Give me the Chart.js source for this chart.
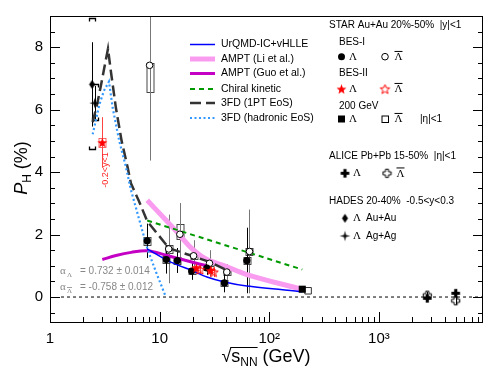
<!DOCTYPE html>
<html><head><meta charset="utf-8">
<script src="https://cdn.jsdelivr.net/npm/chart.js@4/dist/chart.umd.min.js"></script>
<style>html,body{margin:0;padding:0;background:#fff}canvas{display:block}</style>
</head><body>
<canvas id="c" width="498" height="371"></canvas>
<script>
// ---------- data ----------
const xTicks = [1, 10, 100, 1000];
const xTickLabels = ['1', '10', '10\u00B2', '10\u00B3'];
const yTicks = [0, 2, 4, 6, 8];

// STAR BES-I
const besLamE = [7.7, 11.5, 14.5, 19.6, 27, 39, 62.4];
const besLamP = [1.80, 1.20, 1.17, 0.83, 0.93, 0.45, 1.17];
const besLamStat = [0.55, 0.45, 0.40, 0.28, 0.22, 0.30, 1.05];
const besLamSys = [0.12, 0.12, 0.11, 0.10, 0.08, 0.10, 0.10];
const besBarE = [8.1, 12.1, 15.3, 20.4, 28.5, 41.0, 66.0];
const besBarP = [7.42, 1.54, 2.01, 1.32, 1.08, 0.80, 1.46];
const besBarStat = [3.05, 1.10, 1.00, 0.50, 0.42, 0.25, 1.34];
const besBarSysLo = [6.58, 1.42, 1.86, 1.22, 0.98, 0.70, 1.36];
const besBarSysHi = [7.48, 1.66, 2.33, 1.42, 1.18, 0.90, 1.56];
// STAR BES-II
const bes2LamE = [3.0, 21.6, 29.2];
const bes2LamP = [4.95, 0.93, 0.85];
const bes2LamStat = [0.81, 0.15, 0.13];
const bes2LamSys = [0.15, 0.06, 0.06];
const bes2BarE = [23.3, 31.0];
const bes2BarP = [0.88, 0.80];
const bes2BarStat = [0.18, 0.16];
// STAR 200 GeV
const s200LamE = [200];
const s200LamP = [0.25];
const s200LamStat = [0.03];
const s200BarE = [226];
const s200BarP = [0.20];
const s200BarStat = [0.03];
// ALICE
const aliLamE = [2760, 5020];
const aliLamP = [-0.04, 0.12];
const aliLamStat = [0.10, 0.12];
const aliBarE = [2760, 5020];
const aliBarP = [0.06, -0.12];
const aliBarStat = [0.10, 0.12];
// HADES
const hadAuE = [2.42];
const hadAuP = [6.81];
const hadAuStat = [1.35];
const hadAuSysLo = [4.74];
const hadAuSysHi = [8.92];
const hadAgE = [2.55];
const hadAgP = [6.21];
const hadAgStat = [0.55];
const hadAgSysLo = [5.66];
const hadAgSysHi = [6.81];

// models
const urqmdE = [7.7, 11.5, 14.5, 19.6, 27, 39, 62.4, 200];
const urqmdP = [1.54, 1.19, 1.03, 0.85, 0.64, 0.48, 0.35, 0.17];
const amptLiE = [7.7, 11.5, 14.5, 19.6, 27, 39, 62.4, 200];
const amptLiP = [3.10, 2.45, 2.07, 1.56, 1.20, 1.00, 0.72, 0.24];
const amptGuoE = [3.0, 4.0, 5.5, 7.7, 11.5, 14.5, 19.6, 27];
const amptGuoP = [1.20, 1.33, 1.43, 1.48, 1.34, 1.24, 1.12, 1.00];
const chiralE = [7.7, 200];
const chiralP = [2.45, 0.88];
const fd1E = [2.45, 2.7, 2.92, 3.12, 3.38, 3.6, 3.99, 4.5, 5.1, 5.47, 6.5, 7.7, 12.2, 19.6, 29.3, 41.6];
const fd1P = [5.60, 6.20, 6.79, 7.32, 7.95, 7.20, 6.06, 5.00, 4.16, 3.64, 3.06, 2.43, 1.56, 1.32, 1.11, 0.85];
const fdHE = [2.45, 2.82, 3.1, 3.45, 3.73, 4.28, 4.93, 5.47, 7.74, 9.27, 11.4];
const fdHP = [5.21, 6.16, 6.60, 6.90, 6.06, 5.00, 4.16, 3.43, 1.54, 0.80, 0.00];
const zeroE = [1.26, 8900];
const zeroP = [0, 0];

// ---------- markers ----------
function mk(size, draw){ const c=document.createElement('canvas'); c.width=size; c.height=size; draw(c.getContext('2d'), size/2); return c; }
function starPath(g,cx,cy,R,r,n){ g.beginPath(); for(let i=0;i<2*n;i++){const a=-Math.PI/2+i*Math.PI/n; const rr=i%2?r:R; g.lineTo(cx+rr*Math.cos(a), cy+rr*Math.sin(a));} g.closePath(); }
function crossPath(g,c,a,b){ g.beginPath(); g.moveTo(c-b,c-a); g.lineTo(c+b,c-a); g.lineTo(c+b,c-b); g.lineTo(c+a,c-b); g.lineTo(c+a,c+b); g.lineTo(c+b,c+b); g.lineTo(c+b,c+a); g.lineTo(c-b,c+a); g.lineTo(c-b,c+b); g.lineTo(c-a,c+b); g.lineTo(c-a,c-b); g.lineTo(c-b,c-b); g.closePath(); }
const mStarFill = mk(13,(g,c)=>{starPath(g,c,c+0.5,5.2,2.2,5); g.fillStyle='#ff0000'; g.fill();});
const mStarOpen = mk(13,(g,c)=>{starPath(g,c,c+0.5,5.0,2.2,5); g.strokeStyle='#ff0000'; g.lineWidth=1; g.stroke();});
const mCrossFill = mk(11,(g,c)=>{crossPath(g,c,4.3,1.6); g.fillStyle='#000'; g.fill();});
const mCrossOpen = mk(11,(g,c)=>{crossPath(g,c,4.1,1.5); g.strokeStyle='#000'; g.lineWidth=1; g.stroke();});
const mStar4 = mk(13,(g,c)=>{starPath(g,c,c,5.3,1.4,4); g.fillStyle='#000'; g.fill();});
const mDiamond = mk(11,(g,c)=>{g.beginPath(); g.moveTo(c,c-4.5); g.lineTo(c+3,c); g.lineTo(c,c+4.5); g.lineTo(c-3,c); g.closePath(); g.fillStyle='#000'; g.fill();});

const pts = (E,P)=>E.map((e,i)=>({x:e,y:P[i]}));
const FONT = "'Liberation Sans', Arial, sans-serif";

function lineDS(E,P,color,width,dash,tension,order){
  return {data:pts(E,P), showLine:true, borderColor:color, backgroundColor:color, borderWidth:width,
    borderDash:dash, tension:tension, pointRadius:0, order:order, fill:false};
}
function markDS(E,P,style,radius,fillC,edgeC,bw,order,extra){
  return Object.assign({data:pts(E,P), showLine:false, pointStyle:style, pointRadius:radius,
    backgroundColor:fillC, borderColor:edgeC, borderWidth:bw, order:order}, extra||{});
}

const datasets = [
  lineDS(zeroE, zeroP, '#000', 1, [3,3], 0, 30),
  lineDS(amptLiE, amptLiP, '#f99cf0', 5, [], 0.35, 25),
  lineDS(amptGuoE, amptGuoP, '#c400c4', 3, [], 0.35, 24),
  lineDS(chiralE, chiralP, '#009900', 2, [5,4], 0, 23),
  lineDS(urqmdE, urqmdP, '#0000ff', 1.5, [], 0.3, 22),
  lineDS(fd1E, fd1P, '#333333', 2.5, [11,5], 0, 21),
  lineDS(fdHE, fdHP, '#3399ff', 2.2, [2,2.5], 0, 20),
  markDS(besBarE, besBarP, 'circle', 3.3, '#ffffff', '#000', 1, 5,
    {errY:besBarStat, errColor:'#777', gap:3.5, boxLo:besBarSysLo, boxHi:besBarSysHi, boxColor:'#333'}),
  markDS(besLamE, besLamP, 'circle', 3.6, '#000', '#000', 0, 4,
    {errY:besLamStat, errColor:'#000', gap:0, boxSym:besLamSys, boxColor:'#333'}),
  markDS(bes2LamE, bes2LamP, mStarFill, 5, '#f00', '#f00', 1, 3,
    {errY:bes2LamStat, errColor:'#ff4444', gap:0, boxSym:bes2LamSys, boxColor:'#ff5555'}),
  markDS(bes2BarE, bes2BarP, mStarOpen, 5, '#f00', '#f00', 1, 3,
    {errY:bes2BarStat, errColor:'#ff4444', gap:0}),
  markDS(s200LamE, s200LamP, 'rect', 5, '#000', '#000', 0, 3, {errY:s200LamStat, errColor:'#000', gap:0}),
  markDS(s200BarE, s200BarP, 'rect', 4.6, '#ffffff', '#333', 1, 3, {errY:s200BarStat, errColor:'#555', gap:3}),
  markDS(aliLamE, aliLamP, mCrossFill, 5, '#000', '#000', 1, 3, {errY:aliLamStat, errColor:'#000', gap:0}),
  markDS(aliBarE, aliBarP, mCrossOpen, 5, '#000', '#000', 1, 3, {errY:aliBarStat, errColor:'#000', gap:0}),
  markDS(hadAuE, hadAuP, mDiamond, 5, '#000', '#000', 1, 2,
    {errY:hadAuStat, errColor:'#000', gap:0, brLo:hadAuSysLo, brHi:hadAuSysHi}),
  markDS(hadAgE, hadAgP, mStar4, 5, '#000', '#000', 1, 2,
    {errY:hadAgStat, errColor:'#000', gap:0, brLo:hadAgSysLo, brHi:hadAgSysHi})
];

// ---------- plugins ----------
const errPlugin = {
  id:'errs',
  beforeDatasetsDraw(chart){
    const {ctx, chartArea:a, scales:{x,y}} = chart;
    ctx.save(); ctx.beginPath(); ctx.rect(a.left,a.top,a.right-a.left,a.bottom-a.top); ctx.clip();
    chart.data.datasets.forEach(ds=>{
      ds.data.forEach((p,i)=>{
        const px = Math.round(x.getPixelForValue(p.x))+0.5, py = y.getPixelForValue(p.y);
        ctx.lineWidth = 1;
        if (ds.boxSym || ds.boxLo){
          const lo = ds.boxSym ? p.y-ds.boxSym[i] : ds.boxLo[i];
          const hi = ds.boxSym ? p.y+ds.boxSym[i] : ds.boxHi[i];
          const y1 = Math.round(y.getPixelForValue(hi))+0.5, y2 = Math.round(y.getPixelForValue(lo))+0.5;
          ctx.strokeStyle = ds.boxColor; ctx.lineWidth = 0.9;
          ctx.strokeRect(px-3.5, y1, 7, y2-y1);
        }
        if (ds.brLo){
          const y1 = Math.round(y.getPixelForValue(ds.brHi[i]))+0.5, y2 = Math.round(y.getPixelForValue(ds.brLo[i]))+0.5;
          ctx.strokeStyle='#000'; ctx.lineWidth=1.3;
          ctx.beginPath();
          ctx.moveTo(px-3,y1+3); ctx.lineTo(px-3,y1); ctx.lineTo(px+3,y1); ctx.lineTo(px+3,y1+3);
          ctx.moveTo(px-3,y2-3); ctx.lineTo(px-3,y2); ctx.lineTo(px+3,y2); ctx.lineTo(px+3,y2-3);
          ctx.stroke();
        }
        if (ds.errY){
          const e = ds.errY[i];
          const y1 = y.getPixelForValue(p.y+e), y2 = y.getPixelForValue(p.y-e);
          ctx.strokeStyle = ds.errColor; ctx.lineWidth = 1;
          ctx.beginPath();
          if (ds.gap){ ctx.moveTo(px,y1); ctx.lineTo(px,py-ds.gap); ctx.moveTo(px,py+ds.gap); ctx.lineTo(px,y2); }
          else { ctx.moveTo(px,y1); ctx.lineTo(px,y2); }
          ctx.stroke();
        }
      });
    });
    ctx.restore();
  }
};

function lambdaBar(ctx, cx, cy, size){
  ctx.font = size+"px 'Liberation Serif', serif";
  ctx.textAlign='center'; ctx.textBaseline='middle';
  ctx.fillText('\u039B', cx, cy);
  const w = ctx.measureText('\u039B').width;
  ctx.beginPath(); ctx.lineWidth=1; ctx.moveTo(cx-w/2, cy-size*0.55); ctx.lineTo(cx+w/2, cy-size*0.55); ctx.stroke();
}

const decor = {
  id:'decor',
  afterDraw(chart){
    const {ctx, chartArea:a, scales:{x,y}} = chart;
    ctx.save();
    // frame
    ctx.strokeStyle='#000'; ctx.lineWidth=1;
    ctx.strokeRect(a.left+0.5, a.top+0.5, a.right-a.left-1, a.bottom-a.top);
    // x ticks
    ctx.beginPath();
    for (let d=0; d<4; d++) for (let m=1; m<10; m++){
      const v = m*Math.pow(10,d); if (v<=x.min || v>=x.max) continue;
      const px = Math.round(x.getPixelForValue(v))+0.5; const len = m===1?10:5;
      ctx.moveTo(px, a.bottom); ctx.lineTo(px, a.bottom-len);
    }
    // y ticks
    for (let k=-1; k<=17; k++){
      const v = k*0.5; if (v<=y.min || v>=y.max) continue;
      const py = Math.round(y.getPixelForValue(v))+0.5; const len = (k%4===0)?10:5;
      ctx.moveTo(a.left, py); ctx.lineTo(a.left+len, py);
      ctx.moveTo(a.right, py); ctx.lineTo(a.right-len, py);
    }
    ctx.stroke();

    // y title
    ctx.fillStyle='#000';
    ctx.save(); ctx.translate(21, 168); ctx.rotate(-Math.PI/2);
    ctx.textBaseline='alphabetic'; ctx.textAlign='left';
    const fP = "italic 18px 'Liberation Sans', Arial", fH = "12px 'Liberation Sans', Arial", fR = "18px 'Liberation Sans', Arial";
    ctx.font=fP; const wP=ctx.measureText('P').width; ctx.font=fH; const wH=ctx.measureText('H').width; ctx.font=fR; const wR=ctx.measureText(' (%)').width;
    let sx = -(wP+wH+wR)/2;
    ctx.font=fP; ctx.fillText('P', sx, 6); sx+=wP;
    ctx.font=fH; ctx.fillText('H', sx, 10); sx+=wH;
    ctx.font=fR; ctx.fillText(' (%)', sx, 6);
    ctx.restore();

    // x title
    ctx.save();
    const f1="18px 'Liberation Sans', Arial", f2="12px 'Liberation Sans', Arial";
    ctx.font=f1; const wSq=ctx.measureText('\u221A').width, wS=ctx.measureText('s').width, wG=ctx.measureText(' (GeV)').width;
    ctx.font=f2; const wNN=ctx.measureText('NN').width;
    const tot=wSq+wS+wNN+wG; let tx=266-tot/2; const base=362;
    ctx.textAlign='left'; ctx.textBaseline='alphabetic';
    ctx.font=f1; ctx.fillText('\u221A', tx, base); const barX0 = tx+wSq-1; tx+=wSq;
    ctx.fillText('s', tx, base); tx+=wS;
    ctx.font=f2; ctx.fillText('NN', tx, base+4); tx+=wNN;
    ctx.beginPath(); ctx.lineWidth=1; ctx.moveTo(barX0, base-14.5); ctx.lineTo(tx, base-14.5); ctx.stroke();
    ctx.font=f1; ctx.fillText(' (GeV)', tx, base);
    ctx.restore();

    // line legend
    const rows = [
      ['UrQMD-IC+vHLLE', datasets[4]], ['AMPT (Li et al.)', datasets[1]], ['AMPT (Guo et al.)', datasets[2]],
      ['Chiral kinetic', datasets[3]], ['3FD (1PT EoS)', datasets[5]], ['3FD (hadronic EoS)', datasets[6]]
    ];
    const ry = [44.5, 59, 73.5, 89, 103, 118];
    rows.forEach((r,i)=>{
      const ds=r[1];
      ctx.beginPath(); ctx.strokeStyle=ds.borderColor; ctx.lineWidth=ds.borderWidth; ctx.setLineDash(ds.borderDash||[]);
      ctx.moveTo(190, ry[i]); ctx.lineTo(215, ry[i]); ctx.stroke(); ctx.setLineDash([]);
      ctx.fillStyle='#000'; ctx.font="10.5px 'Liberation Sans', Arial"; ctx.textAlign='left'; ctx.textBaseline='middle';
      ctx.fillText(r[0], 221, ry[i]);
    });

    // right legend
    const tf = "10px 'Liberation Sans', Arial";
    ctx.fillStyle='#000'; ctx.strokeStyle='#000'; ctx.textAlign='left'; ctx.textBaseline='middle'; ctx.font=tf;
    ctx.fillText('STAR Au+Au 20%-50%  |y|<1', 329, 25);
    ctx.fillText('BES-I', 339, 42);
    ctx.fillText('BES-II', 339, 73);
    ctx.fillText('200 GeV', 339, 106.5);
    ctx.fillText('ALICE Pb+Pb 15-50%  |\u03B7|<1', 329, 156);
    ctx.fillText('HADES 20-40%  -0.5<y<0.3', 329, 201.5);
    // markers
    ctx.beginPath(); ctx.arc(341.5, 56.7, 3.5, 0, 2*Math.PI); ctx.fill();
    ctx.beginPath(); ctx.lineWidth=1; ctx.arc(385, 56.7, 3.3, 0, 2*Math.PI); ctx.stroke();
    ctx.drawImage(mStarFill, 341.5-6.5, 89-6.5);
    ctx.drawImage(mStarOpen, 385-6.5, 89-6.5);
    ctx.fillRect(338, 115.5, 7, 7);
    ctx.strokeRect(382, 116, 6.5, 6.5);
    ctx.drawImage(mCrossFill, 345-5.5, 173.3-5.5);
    ctx.drawImage(mCrossOpen, 387-5.5, 173.3-5.5);
    ctx.drawImage(mDiamond, 345-5.5, 218.3-5.5);
    ctx.drawImage(mStar4, 345-6.5, 236-6.5);
    // lambda glyphs
    ctx.font="11px 'Liberation Serif', serif"; ctx.textAlign='center';
    ctx.fillText('\u039B', 353, 57); lambdaBar(ctx, 398.5, 57.5, 11);
    ctx.fillStyle='#000'; ctx.fillText('\u039B', 353, 89); lambdaBar(ctx, 398.5, 89.5, 11);
    ctx.fillText('\u039B', 353, 119); lambdaBar(ctx, 398.5, 119.5, 11);
    ctx.font="11px 'Liberation Serif', serif"; ctx.fillText('\u039B', 357, 173.5); lambdaBar(ctx, 400.5, 174, 11);
    ctx.font="11px 'Liberation Serif', serif"; ctx.fillText('\u039B', 357, 218.5); ctx.fillText('\u039B', 357, 236);
    ctx.font=tf; ctx.textAlign='left';
    ctx.fillText('|\u03B7|<1', 420, 119);
    ctx.fillText('Au+Au', 366, 218.5);
    ctx.fillText('Ag+Ag', 366, 236);

    // alpha annotations
    ctx.fillStyle='#888'; ctx.strokeStyle='#888';
    const fa="10px 'Liberation Sans', Arial";
    ctx.font="11px 'Liberation Serif', serif"; ctx.textAlign='left'; ctx.textBaseline='alphabetic';
    ctx.fillText('\u03B1', 60, 274); ctx.fillText('\u03B1', 60, 290);
    ctx.font="7px 'Liberation Serif', serif";
    ctx.fillText('\u039B', 67, 277); ctx.fillText('\u039B', 67, 293);
    ctx.beginPath(); ctx.lineWidth=0.8; ctx.moveTo(67, 287.5); ctx.lineTo(72, 287.5); ctx.stroke();
    ctx.font=fa;
    ctx.fillText('= 0.732 \u00B1 0.014', 80, 274);
    ctx.fillText('= -0.758 \u00B1 0.012', 80, 290);

    // rapidity label for 3 GeV
    ctx.save(); ctx.translate(106, 170); ctx.rotate(-Math.PI/2);
    ctx.fillStyle='#ff2222'; ctx.font="9px 'Liberation Sans', Arial"; ctx.textAlign='center'; ctx.textBaseline='middle';
    ctx.fillText('-0.2<y<1', 0, 0);
    ctx.restore();

    ctx.restore();
  }
};

new Chart(document.getElementById('c'), {
  type:'scatter',
  data:{datasets},
  plugins:[errPlugin, decor],
  options:{
    responsive:false, animation:false, events:[], devicePixelRatio:1,
    layout:{padding:{left:0, top:10, right:15, bottom:0}},
    plugins:{legend:{display:false}, tooltip:{enabled:false}},
    scales:{
      x:{type:'logarithmic', min:1, max:8900,
        grid:{display:false, drawTicks:false}, border:{display:false},
        afterFit:s=>{s.height=49;},
        afterBuildTicks:s=>{s.ticks = xTicks.map(v=>({value:v}));},
        ticks:{autoSkip:false, maxRotation:0, padding:8, color:'#000', font:{family:FONT, size:15},
          callback:(v)=>{const i=xTicks.indexOf(v); return i<0?'':xTickLabels[i];}}
      },
      y:{type:'linear', min:-0.8, max:9,
        grid:{display:false, drawTicks:false}, border:{display:false},
        afterFit:s=>{s.width=50;},
        afterBuildTicks:s=>{s.ticks = yTicks.map(v=>({value:v}));},
        ticks:{padding:7, color:'#000', font:{family:FONT, size:15}, callback:v=>String(v)}
      }
    }
  }
});
</script>
</body></html>
